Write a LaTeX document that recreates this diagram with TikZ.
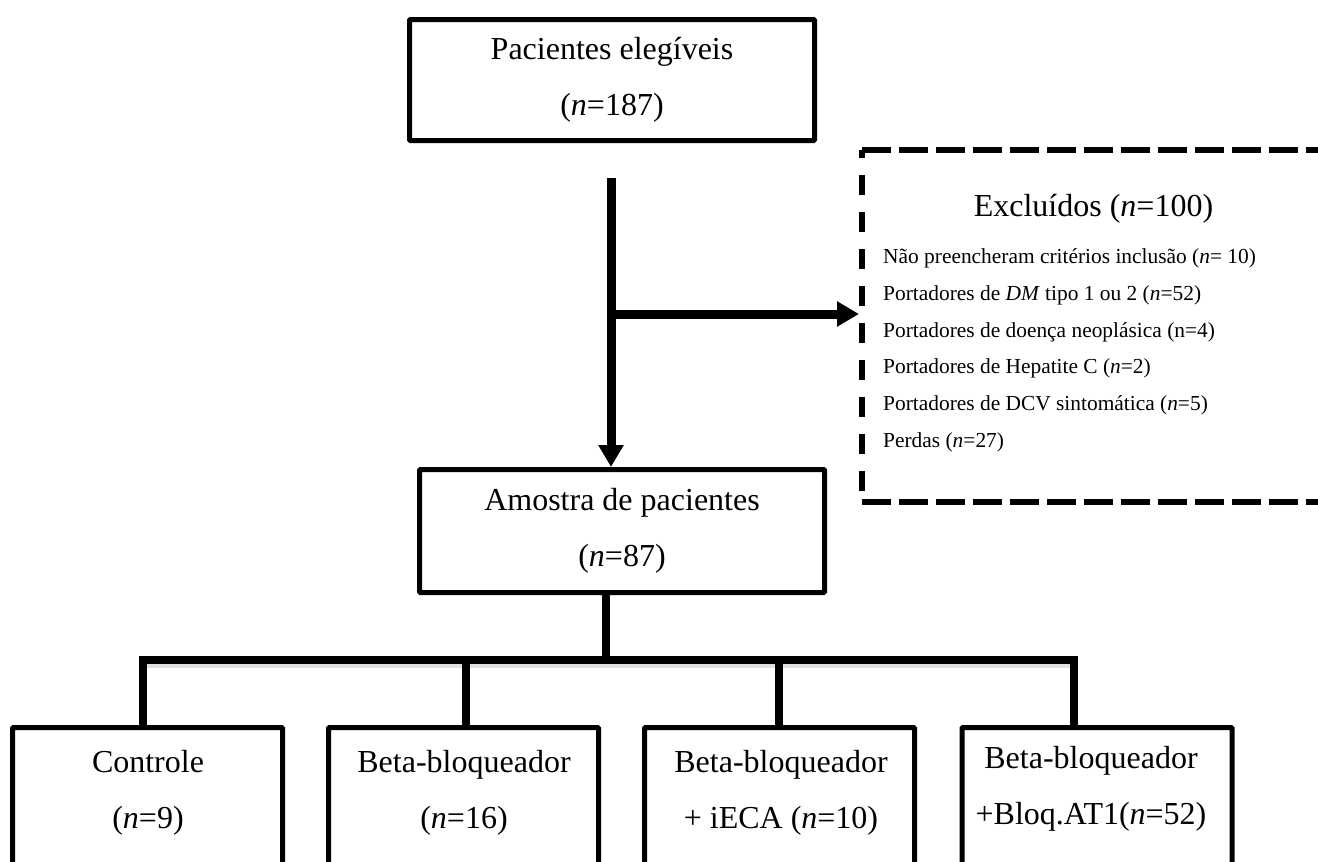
\documentclass[tikz,border=0pt]{standalone}
\usepackage{fontspec}
\setmainfont{Liberation Serif}
\usetikzlibrary{arrows.meta}
\begin{document}
\begin{tikzpicture}[x=1pt,y=-1pt,
  box/.style={draw, line width=5pt, minimum width=405pt, inner sep=0pt, align=center,
    rounded corners=1pt, font=\fontsize{32}{56}\selectfont},
  gbox/.style={draw, line width=5pt, minimum width=270pt, minimum height=200pt, inner sep=0pt,
    rounded corners=1pt},
  glabel/.style={inner sep=0pt, align=center, font=\fontsize{32}{56}\selectfont},
  exclbox/.style={draw=none, outer sep=0pt, inner sep=0pt, minimum width=463pt, minimum height=352pt},
  dashv/.style={line width=5.5pt, dash pattern=on 20pt off 17pt, dash phase=12pt},
  dashh/.style={line width=5.5pt, dash pattern=on 29pt off 8pt},
  arr/.style={line width=9pt, -{Triangle[length=22pt,width=24pt]}},
  conn/.style={line width=7.5pt},
  shade/.style={draw=black!12, line width=8pt, transform canvas={yshift=-3.5pt}},
  ttl/.style={inner sep=0pt, font=\fontsize{32}{40}\selectfont},
  lst/.style={inner sep=0pt, align=left, font=\fontsize{21.4}{36.8}\selectfont}
]
\useasboundingbox (0,0) rectangle (1318,862);

% main boxes
\node[box, minimum height=121pt] (eleg) at (612,80) {Pacientes elegíveis\\(\textit{n}=187)};
\node[box, minimum height=123pt] (amostra) at (622,531) {Amostra de pacientes\\(\textit{n}=87)};

% excluded box
\node[exclbox] (excl) at (1093.5,326) {};
\draw[dashv] (excl.north west) -- (excl.south west);
\draw[dashh] (excl.south west) -- (excl.south east);
\draw[dashh] (excl.north west) -- (excl.north east);
\node[ttl, anchor=base] (exclt) at (1093.5,216) {Excluídos (\textit{n}=100)};
\node[lst, anchor=north west] (excll) at (883,248.4) {Não preencheram critérios inclusão (\textit{n}= 10)\\
Portadores de \textit{DM} tipo 1 ou 2 (\textit{n}=52)\\
Portadores de doença neoplásica (n=4)\\
Portadores de Hepatite C (\textit{n}=2)\\
Portadores de DCV sintomática (\textit{n}=5)\\
Perdas (\textit{n}=27)};

% group boxes
\node[gbox] (g1) at (147.5,827.5) {};
\node[gbox] (g2) at (463.5,827.5) {};
\node[gbox] (g3) at (779.5,827.5) {};
\node[gbox] (g4) at (1097,827.5) {};
\node[glabel] (l1) at (148,793) {Controle\\(\textit{n}=9)};
\node[glabel] (l2) at (464,793) {Beta-bloqueador\\(\textit{n}=16)};
\node[glabel] (l3) at (781,793) {Beta-bloqueador\\+ iECA (\textit{n}=10)};
\node[glabel] (l4) at (1091,789) {Beta-bloqueador\\+Bloq.AT1(\textit{n}=52)};

% connectors
\coordinate (a0) at (611,178);
\coordinate (a1) at (611,314);
\draw[arr] (a0) -- (amostra.north -| a0);
\draw[arr, shorten >=3pt] (a1) -- (excl.west |- a1);

\coordinate (j) at (606,660);
\coordinate (d1) at (143,660);
\coordinate (d2) at (466,660);
\coordinate (d3) at (779,660);
\coordinate (d4) at (1074,660);
\draw[shade] (d1) -- (d4);
\draw[conn] (amostra.south -| j) -- (j);
\draw[conn, line join=miter] (g1.north -| d1) -- (d1) -- (d4) -- (g4.north -| d4);
\draw[conn] (d2) -- (g2.north -| d2);
\draw[conn] (d3) -- (g3.north -| d3);
\end{tikzpicture}
\end{document}
